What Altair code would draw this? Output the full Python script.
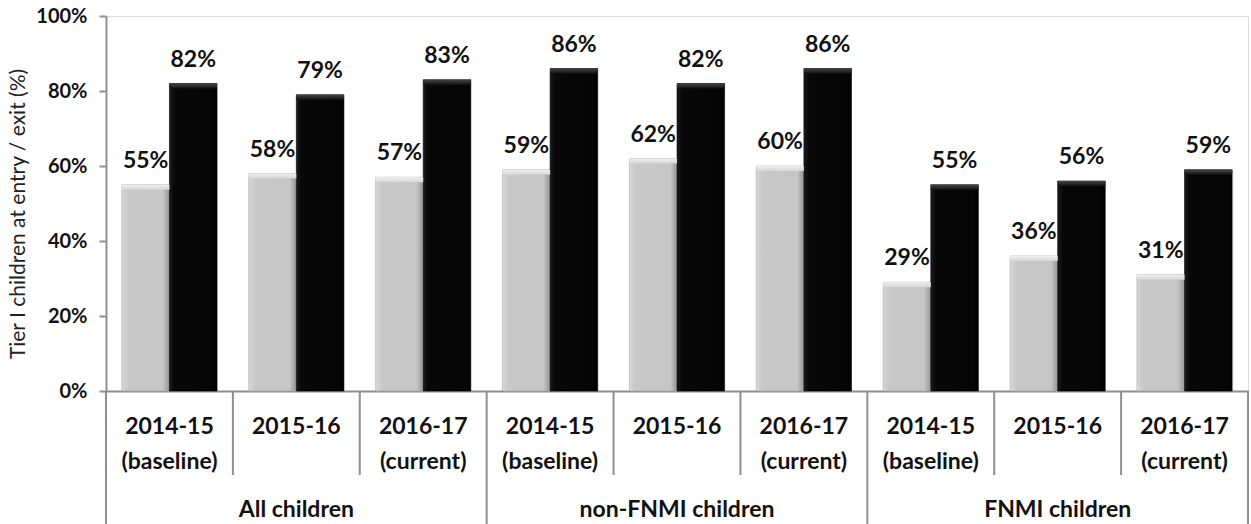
import altair as alt
import pandas as pd

# ---- data -------------------------------------------------------------
groups = ["All children", "non-FNMI children", "FNMI children"]
years = ["2014-15\n(baseline)", "2015-16", "2016-17\n(current)"]
entry_pct = [55, 58, 57, 59, 62, 60, 29, 36, 31]
exit_pct = [82, 79, 83, 86, 82, 86, 55, 56, 59]
series = ["entry", "exit"]

y_title = "Tier I children at entry / exit (%)"
y_ticks = [0, 0.2, 0.4, 0.6, 0.8, 1.0]

# ---- tables -------------------------------------------------------------
cat_rows = []
for gi, g in enumerate(groups):
    for yi, yr in enumerate(years):
        cat_rows.append({"key": f"{g}|{yr}", "group": g, "year": yr,
                         "pos": yi, "group_start": yi == 0})
cats = pd.DataFrame(cat_rows)
keys = list(cats["key"])

bar_rows = []
for i, k in enumerate(keys):
    bar_rows.append({"key": k, "series": "entry", "value": entry_pct[i] / 100,
                     "label": f"{entry_pct[i]}%"})
    bar_rows.append({"key": k, "series": "exit", "value": exit_pct[i] / 100,
                     "label": f"{exit_pct[i]}%"})
bars = pd.DataFrame(bar_rows)

W, H = 1142, 375
FONT = "Lato"
LINE = "#8f8f8f"
TEXT = "#111111"

x_scale = alt.Scale(domain=keys, paddingInner=0, paddingOuter=0)
x_enc = alt.X("key:N", sort=keys, scale=x_scale,
              axis=alt.Axis(labels=False, ticks=False, title=None,
                            domainColor=LINE, domainWidth=2))
xoff_enc = alt.XOffset("series:N",
                       scale=alt.Scale(domain=series, paddingOuter=0.333,
                                       paddingInner=0))
y_enc = alt.Y("value:Q",
              scale=alt.Scale(domain=[0, 1], nice=False),
              axis=alt.Axis(values=y_ticks, format=".0%", grid=False,
                            tickSize=7, tickWidth=2, tickColor=LINE,
                            domainColor=LINE, domainWidth=2,
                            labelFont=FONT, labelFontWeight="bold",
                            labelFontSize=20, labelColor=TEXT,
                            labelPadding=12,
                            title=y_title, titleFont=FONT,
                            titleFontWeight="normal", titleFontSize=21,
                            titleColor="#222222", titleX=-88, titleY=H / 2 + 10,
                            titleAngle=270, titleAlign="center",
                            titleBaseline="middle"))

base = alt.Chart(bars)

# bevelled bar bodies
grey_fill = alt.LinearGradient(
    gradient="linear", x1=0, x2=1, y1=0, y2=0,
    stops=[alt.GradientStop(color="#d8d8d8", offset=0),
           alt.GradientStop(color="#cdcdcd", offset=0.08),
           alt.GradientStop(color="#c8c8c8", offset=0.15),
           alt.GradientStop(color="#c6c6c6", offset=0.86),
           alt.GradientStop(color="#adadad", offset=0.93),
           alt.GradientStop(color="#999999", offset=1)])
black_fill = alt.LinearGradient(
    gradient="linear", x1=0, x2=1, y1=0, y2=0,
    stops=[alt.GradientStop(color="#1c1c1c", offset=0),
           alt.GradientStop(color="#080808", offset=0.1),
           alt.GradientStop(color="#050505", offset=0.9),
           alt.GradientStop(color="#000000", offset=1)])

grey_bars = base.transform_filter(alt.datum.series == "entry").mark_bar(
    fill=grey_fill, stroke="#a9a9a9", strokeWidth=0.6
).encode(x=x_enc, xOffset=xoff_enc, y=y_enc)

black_bars = base.transform_filter(alt.datum.series == "exit").mark_bar(
    fill=black_fill, stroke="#000000", strokeWidth=0.6
).encode(x=x_enc, xOffset=xoff_enc, y=y_enc)

# light bevel strip along the top of each bar
grey_cap_fill = alt.LinearGradient(
    gradient="linear", x1=0, x2=0, y1=0, y2=1,
    stops=[alt.GradientStop(color="#f0f0f0", offset=0),
           alt.GradientStop(color="#d6d6d6", offset=1)])
black_cap_fill = alt.LinearGradient(
    gradient="linear", x1=0, x2=0, y1=0, y2=1,
    stops=[alt.GradientStop(color="#444444", offset=0),
           alt.GradientStop(color="#141414", offset=1)])

grey_caps = base.transform_filter(alt.datum.series == "entry").transform_calculate(
    cap="datum.value - 0.013"
).mark_bar(fill=grey_cap_fill).encode(
    x=x_enc, xOffset=xoff_enc, y=alt.Y("value:Q"), y2="cap:Q")

black_caps = base.transform_filter(alt.datum.series == "exit").transform_calculate(
    cap="datum.value - 0.013"
).mark_bar(fill=black_cap_fill).encode(
    x=x_enc, xOffset=xoff_enc, y=alt.Y("value:Q"), y2="cap:Q")

# value labels above the bars
value_labels = base.mark_text(
    font=FONT, fontWeight="bold", fontSize=23, color=TEXT,
    baseline="alphabetic", dy=-17
).encode(x=x_enc, xOffset=xoff_enc, y=alt.Y("value:Q"), text="label:N")

# category axis: year labels, group labels and separators
year_labels = alt.Chart(cats).mark_text(
    font=FONT, fontWeight="bold", fontSize=23, color=TEXT,
    baseline="alphabetic", lineBreak="\n", lineHeight=35
).encode(x=x_enc, y=alt.value(H + 43), text="year:N")

group_labels = alt.Chart(cats).transform_filter(alt.datum.pos == 1).mark_text(
    font=FONT, fontWeight="bold", fontSize=23, color=TEXT,
    baseline="alphabetic"
).encode(x=x_enc, y=alt.value(H + 126), text="group:N")

short_seps = alt.Chart(cats).transform_filter("!datum.group_start").mark_rule(
    color=LINE, strokeWidth=2
).encode(x=alt.X("key:N", sort=keys, bandPosition=0, scale=x_scale),
         y=alt.value(H), y2=alt.value(H + 84))

long_seps = alt.Chart(cats).transform_filter("datum.group_start").mark_rule(
    color=LINE, strokeWidth=2
).encode(x=alt.X("key:N", sort=keys, bandPosition=0, scale=x_scale),
         y=alt.value(H), y2=alt.value(H + 133))

end_sep = alt.Chart(cats).transform_filter(alt.datum.key == keys[-1]).mark_rule(
    color=LINE, strokeWidth=2
).encode(x=alt.X("key:N", sort=keys, bandPosition=1, scale=x_scale),
         y=alt.value(H), y2=alt.value(H + 133))

chart = alt.layer(
    grey_bars, black_bars, grey_caps, black_caps, value_labels,
    year_labels, group_labels, short_seps, long_seps, end_sep
).properties(
    width=W, height=H,
    autosize=alt.AutoSizeParams(type="none"),
    padding={"left": 106, "top": 16, "right": 3, "bottom": 133},
).configure_view(
    stroke="#c4c4c4", strokeWidth=1.5
).configure(background="white")

chart.save("out.html", embed_options={"renderer": "svg", "actions": False})
